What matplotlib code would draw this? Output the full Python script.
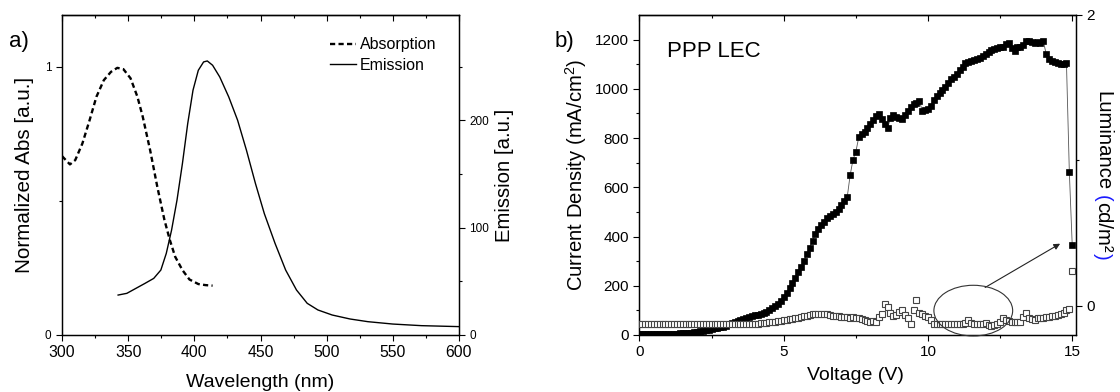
import numpy as np
import matplotlib
matplotlib.use("Agg")
import matplotlib.pyplot as plt
from matplotlib.patches import Ellipse

plt.rcParams['font.family'] = ['Liberation Sans', 'DejaVu Sans']
plt.rcParams['mathtext.default'] = 'regular'

# ---------------- panel a: absorption / emission spectra ----------------
abs_wl = [300, 306, 310, 315.4, 320.8, 326, 331.6, 337, 341.8, 346.4, 351.8, 357,
          361, 366.6, 372, 377.4, 381.5, 385.5, 391, 396.3, 403, 408.4, 413.8]
abs_val = [0.667, 0.636, 0.652, 0.714, 0.80, 0.888, 0.95, 0.981, 0.996, 0.991, 0.957,
           0.888, 0.814, 0.689, 0.553, 0.429, 0.354, 0.292, 0.242, 0.207, 0.19, 0.186, 0.184]

em_wl = [342.4, 349, 355.8, 362.6, 369.3, 374.7, 378.8, 382.8, 386.9, 391, 395, 399,
         403, 407, 409.8, 413.8, 419.2, 426, 432.7, 439.4, 446.2, 452.9, 461, 469,
         477.2, 485.3, 493.4, 504.2, 517.7, 531.2, 550, 571.6, 600]
em_val = [37.2, 38.8, 43.4, 48, 52.7, 60.5, 76, 97.7, 125.6, 159.7, 196.9, 228,
          246.5, 254.3, 255.2, 251.2, 240.3, 221.7, 200, 172, 141, 113, 85.3, 60.5,
          41.9, 29.5, 23.3, 18.6, 14.9, 12.4, 10.2, 8.7, 7.8]

# ---------------- panel b: PPP LEC J-V-L sweep ----------------
voltage = np.round(np.arange(0, 151) * 0.1, 1)
current_density = [
    3, 3, 3, 3, 3, 4, 4, 4, 4, 5,
    5, 5, 6, 6, 7, 7, 8, 9, 10, 12,
    13, 15, 17, 20, 22, 25, 27, 29, 32, 34,
    38, 43, 48, 52, 56, 60, 65, 70, 74, 77,
    80, 83, 86, 88, 94, 100, 108, 116, 126, 138,
    153, 172, 192, 212, 233, 255, 277, 300, 328, 355,
    383, 410, 432, 447, 461, 474, 485, 493, 500, 513,
    530, 545, 560, 648, 712, 745, 803, 815, 825, 840,
    858, 875, 888, 898, 878, 858, 842, 880, 893, 885,
    880, 878, 895, 912, 928, 938, 944, 951, 912, 914,
    918, 932, 955, 970, 982, 995, 1008, 1025, 1040, 1050,
    1062, 1075, 1090, 1104, 1110, 1114, 1116, 1120, 1126, 1135,
    1142, 1150, 1157, 1162, 1166, 1170, 1172, 1183, 1186, 1165,
    1155, 1168, 1172, 1180, 1194, 1193, 1190, 1188, 1190, 1188,
    1193, 1140, 1120, 1114, 1110, 1106, 1102, 1100, 1104, 661,
    364]
luminance = [
    -0.125, -0.125, -0.125, -0.125, -0.125, -0.125, -0.125, -0.125, -0.125, -0.125,
    -0.125, -0.125, -0.125, -0.125, -0.125, -0.125, -0.125, -0.125, -0.125, -0.125,
    -0.125, -0.125, -0.125, -0.125, -0.125, -0.125, -0.125, -0.125, -0.125, -0.125,
    -0.125, -0.125, -0.125, -0.125, -0.125, -0.125, -0.125, -0.125, -0.125, -0.124,
    -0.123, -0.122, -0.120, -0.119, -0.117, -0.114, -0.111, -0.109, -0.106, -0.103,
    -0.100, -0.096, -0.092, -0.088, -0.084, -0.080, -0.076, -0.072, -0.066, -0.062,
    -0.059, -0.057, -0.056, -0.055, -0.056, -0.058, -0.062, -0.066, -0.068, -0.072,
    -0.075, -0.074, -0.078, -0.080, -0.079, -0.082, -0.080, -0.090, -0.098, -0.104,
    -0.112, -0.106, -0.108, -0.075, -0.055, 0.014, -0.008, -0.048, -0.070, -0.060,
    -0.045, -0.028, -0.060, -0.085, -0.122, -0.030, 0.041, -0.050, -0.058, -0.066,
    -0.078, -0.100, -0.124, -0.126, -0.126, -0.127, -0.126, -0.126, -0.127, -0.126,
    -0.126, -0.127, -0.126, -0.120, -0.098, -0.118, -0.124, -0.126, -0.122, -0.126,
    -0.120, -0.128, -0.138, -0.130, -0.124, -0.110, -0.080, -0.098, -0.105, -0.110,
    -0.112, -0.108, -0.110, -0.075, -0.050, -0.085, -0.092, -0.096, -0.085, -0.080,
    -0.082, -0.078, -0.074, -0.070, -0.066, -0.062, -0.058, -0.050, -0.030, -0.020,
    0.243]

TICK_FS_SMALL = 8.5
TICK_FS = 11.3
XLABEL_FS = 14
YLABEL_FS = 14.6

fig = plt.figure(figsize=(11.2, 3.92), dpi=100)


def style_axis(ax):
    for s in ax.spines.values():
        s.set_linewidth(0.9)
    ax.tick_params(which='major', length=4, width=0.8, direction='out')
    ax.tick_params(which='minor', length=2.5, width=0.8, direction='out')


def top_ticks(ax, major, minor):
    sec = ax.secondary_xaxis('top')
    sec.set_xticks(major)
    sec.set_xticks(minor, minor=True)
    sec.tick_params(which='major', direction='in', length=4, width=0.8, labeltop=False)
    sec.tick_params(which='minor', direction='in', length=2.5, width=0.8, labeltop=False)
    sec.spines['top'].set_linewidth(0.9)
    return sec


# ---------- panel a ----------
ax_a = fig.add_axes([0.05536, 0.14541, 0.35446, 0.81633])
ax_e = ax_a.twinx()
for a in (ax_a, ax_e):
    style_axis(a)

la, = ax_a.plot(abs_wl, abs_val, color='black', lw=1.7,
                linestyle=(0, (2.2, 1.4)), label='Absorption')
le, = ax_e.plot(em_wl, em_val, color='black', lw=1.0, label='Emission')

ax_a.set_xlim(300, 600)
ax_a.set_ylim(0, 1.193)
ax_e.set_ylim(0, 298)
ax_a.set_xticks(np.arange(300, 601, 50))
ax_a.set_xticks(np.arange(325, 600, 50), minor=True)
ax_a.set_yticks([0, 1])
ax_a.set_yticks([0.5], minor=True)
ax_e.set_yticks([0, 100, 200])
ax_e.set_yticks([50, 150, 250], minor=True)
ax_a.tick_params(axis='x', labelsize=TICK_FS)
ax_a.tick_params(axis='y', labelsize=TICK_FS_SMALL)
ax_e.tick_params(axis='y', labelsize=TICK_FS_SMALL)
top_ticks(ax_a, np.arange(300, 601, 50), np.arange(325, 600, 50))

ax_a.set_xlabel('Wavelength (nm)', fontsize=XLABEL_FS)
ax_a.xaxis.set_label_coords(0.5, -0.122)
ax_a.set_ylabel('Normalized Abs [a.u.]', fontsize=YLABEL_FS + 0.3)
ax_a.yaxis.set_label_coords(-0.07, 0.5)
ax_e.set_ylabel('Emission [a.u.]', fontsize=YLABEL_FS)
ax_e.yaxis.set_label_coords(1.09, 0.5)

ax_e.legend(handles=[la, le], loc='upper left', bbox_to_anchor=(0.675, 0.93),
            frameon=False, fontsize=11.5, handlelength=1.6, handletextpad=0.25,
            borderpad=0, borderaxespad=0, labelspacing=0.33)

fig.text(0.008, 0.895, 'a)', fontsize=16, va='center', ha='left')

# ---------- panel b ----------
ax_b = fig.add_axes([0.57098, 0.14541, 0.38946, 0.81633])
ax_l = ax_b.twinx()
for a in (ax_b, ax_l):
    style_axis(a)

ax_b.plot(voltage, current_density, color='#555555', lw=0.6, marker='s',
          markersize=4.6, markerfacecolor='black', markeredgecolor='black',
          markeredgewidth=0.5, zorder=2)
ax_l.plot(voltage, luminance, linestyle='none', marker='s', markersize=4.3,
          markerfacecolor='white', markeredgecolor='#444444', markeredgewidth=0.8,
          zorder=3)

ax_b.set_xlim(0, 15.12)
ax_b.set_ylim(0, 1300)
ax_l.set_ylim(-0.2, 2.0)
ax_b.set_xticks([0, 5, 10, 15])
ax_b.set_xticks([2.5, 7.5, 12.5], minor=True)
ax_b.set_yticks(np.arange(0, 1201, 200))
ax_b.set_yticks(np.arange(100, 1300, 200), minor=True)
ax_l.set_yticks([0, 2])
ax_l.set_yticks([1], minor=True)
ax_b.tick_params(labelsize=TICK_FS - 0.3)
ax_l.tick_params(labelsize=TICK_FS - 0.3)
top_ticks(ax_b, [0, 5, 10, 15], [2.5, 7.5, 12.5])

ax_b.set_xlabel('Voltage (V)', fontsize=XLABEL_FS)
ax_b.xaxis.set_label_coords(0.494, -0.1)
ax_b.set_ylabel('Current Density (mA/cm$^2$)', fontsize=YLABEL_FS)
ax_b.yaxis.set_label_coords(-0.116, 0.5)

ax_b.text(0.063, 0.885, 'PPP LEC', transform=ax_b.transAxes, fontsize=16,
          ha='left', va='center')
fig.text(0.495, 0.895, 'b)', fontsize=16, va='center', ha='left')

# highlighted low-luminance region and pointer to the final rise
ell = Ellipse((11.57, 99), width=2.73, height=206, transform=ax_b.transData,
              fill=False, edgecolor='#333333', lw=0.8, clip_on=False, zorder=4)
ax_l.add_patch(ell)
ax_l.annotate('', xy=(14.58, 371), xycoords=ax_b.transData,
              xytext=(11.98, 193), textcoords=ax_b.transData,
              arrowprops=dict(arrowstyle='-|>', color='#222222', lw=0.8,
                              mutation_scale=9, shrinkA=0, shrinkB=0))

# right-hand axis title with blue parentheses, built piece by piece
fig.canvas.draw()
renderer = fig.canvas.get_renderer()
pieces = [('Luminance ', 'black'), ('(', '#1a1aff'), ('cd/m\u00b2', 'black'),
          (')', '#1a1aff')]


def text_len(s):
    t = fig.text(0, 0, s, fontsize=YLABEL_FS)
    w = t.get_window_extent(renderer).width
    t.remove()
    return w


full = ''.join(s for s, _ in pieces)
total = text_len(full)
H = fig.bbox.height
y_top = (1 - 175 / 392) * H + total / 2
x_base = 1097 / 1120
prefix = ''
for s, c in pieces:
    prefix += s
    start = text_len(prefix) - text_len(s.strip() or s)
    if s.endswith(' '):
        start = 0.0
    fig.text(x_base, (y_top - start) / H, s.strip(), color=c, fontsize=YLABEL_FS,
             rotation=-90, rotation_mode='anchor', ha='left', va='baseline')

fig.savefig('out.png', dpi=100)
